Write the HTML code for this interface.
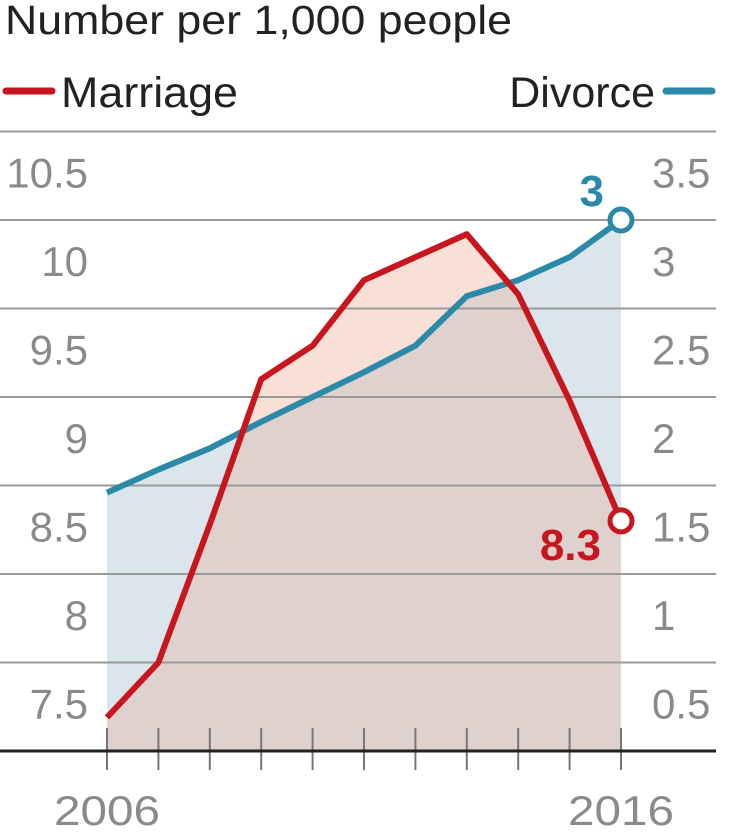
<!DOCTYPE html>
<html><head><meta charset="utf-8"><style>
body{margin:0;background:#fff;}
svg{display:block;font-family:"Liberation Sans",sans-serif;}
</style></head><body>
<svg id="chart" width="734" height="838">
<text x="5" y="34" font-size="41" fill="#222" textLength="507" lengthAdjust="spacingAndGlyphs">Number per 1,000 people</text>
<g>
<line x1="6" y1="91" x2="52" y2="91" stroke="#c8161e" stroke-width="7" stroke-linecap="round"/>
<text x="61" y="107" font-size="43" fill="#222" textLength="177" lengthAdjust="spacingAndGlyphs">Marriage</text>
<text x="655" y="107" font-size="43" fill="#222" text-anchor="end">Divorce</text>
<line x1="666" y1="91" x2="712" y2="91" stroke="#2a8aa8" stroke-width="7" stroke-linecap="round"/>
</g>
<g id="plot"></g>
</svg>
<script>
const years=[2006,2007,2008,2009,2010,2011,2012,2013,2014,2015,2016];
const marriage=[7.19,7.5,8.28,9.1,9.29,9.66,9.79,9.92,9.58,8.98,8.3];
const divorce=[1.46,1.59,1.71,1.86,2.0,2.14,2.29,2.57,2.66,2.79,3.0];
const leftTicks=[10.5,10,9.5,9,8.5,8,7.5];
const rightTicks=[3.5,3,2.5,2,1.5,1,0.5];
const xLabels=[2006,2016];
const NS="http://www.w3.org/2000/svg";
const g=document.getElementById('plot');
const x=y=>107+(y-2006)*51.4;
const yL=v=>751-(v-7)*177;
const yR=v=>751-v*177;
function mk(t,a){const e=document.createElementNS(NS,t);for(const k in a)e.setAttribute(k,a[k]);g.appendChild(e);return e;}
const mPts=years.map((yr,i)=>[x(yr),yL(marriage[i])]);
const dPts=years.map((yr,i)=>[x(yr),yR(divorce[i])]);
const area=p=>'M'+p[0][0]+',751 '+p.map(q=>'L'+q[0]+','+q[1]).join(' ')+' L'+p[p.length-1][0]+',751Z';
const line=p=>'M'+p.map(q=>q[0]+','+q[1]).join(' L');
let e;
const defs=mk('defs',{});
const cp=document.createElementNS(NS,'clipPath');cp.setAttribute('id','dclip');defs.appendChild(cp);
const cpp=document.createElementNS(NS,'path');cpp.setAttribute('d',area(dPts));cp.appendChild(cpp);
e=mk('path',{d:area(dPts),fill:'#dbe6ec'});


e=mk('path',{d:area(mPts),fill:'#f9e0d6'});


e=mk('path',{d:area(mPts),fill:'#dfd2ce','clip-path':'url(#dclip)'});


leftTicks.forEach((v,i)=>{
  const yy=yL(v);
  e=mk('line',{x1:0,x2:716,y1:yy,y2:yy,stroke:'#9a9a9a','stroke-width':2});
  
  
  e=mk('text',{x:88,y:yy+56,'font-size':42,fill:'#8a8a8a','text-anchor':'end'});e.textContent=v;
  
  
});
rightTicks.forEach(v=>{
  e=mk('text',{x:652,y:yR(v)+56,'font-size':42,fill:'#8a8a8a'});e.textContent=v;
  
  
});
years.forEach(yr=>{
  e=mk('line',{x1:x(yr),x2:x(yr),y1:yL(7.13),y2:770,stroke:'#777','stroke-width':2});
  
  
});
e=mk('line',{x1:0,x2:716,y1:751,y2:751,stroke:'#222','stroke-width':3});


xLabels.forEach(yr=>{
  e=mk('text',{x:x(yr)-53,y:825,'font-size':42,fill:'#8a8a8a',textLength:106,lengthAdjust:'spacingAndGlyphs'});e.textContent=yr;
  
  
});
e=mk('path',{d:line(dPts),fill:'none',stroke:'#2a8aa8','stroke-width':6,'stroke-linejoin':'round'});


e=mk('path',{d:line(mPts),fill:'none',stroke:'#c8161e','stroke-width':6,'stroke-linejoin':'round'});


const dl=dPts[dPts.length-1],ml=mPts[mPts.length-1];
e=mk('circle',{cx:dl[0],cy:dl[1],r:11,fill:'#fff',stroke:'#2a8aa8','stroke-width':5});


e=mk('circle',{cx:ml[0],cy:ml[1],r:11,fill:'#fff',stroke:'#c8161e','stroke-width':5});


e=mk('text',{x:dl[0]-17,y:dl[1]-14,'font-size':44,'font-weight':'bold',fill:'#2a8aa8','text-anchor':'end'});e.textContent=Math.round(divorce[divorce.length-1]*10)/10;


e=mk('text',{x:ml[0]-20,y:ml[1]+39,'font-size':44,'font-weight':'bold',fill:'#c8161e','text-anchor':'end'});e.textContent=marriage[marriage.length-1];


</script>
</body></html>
